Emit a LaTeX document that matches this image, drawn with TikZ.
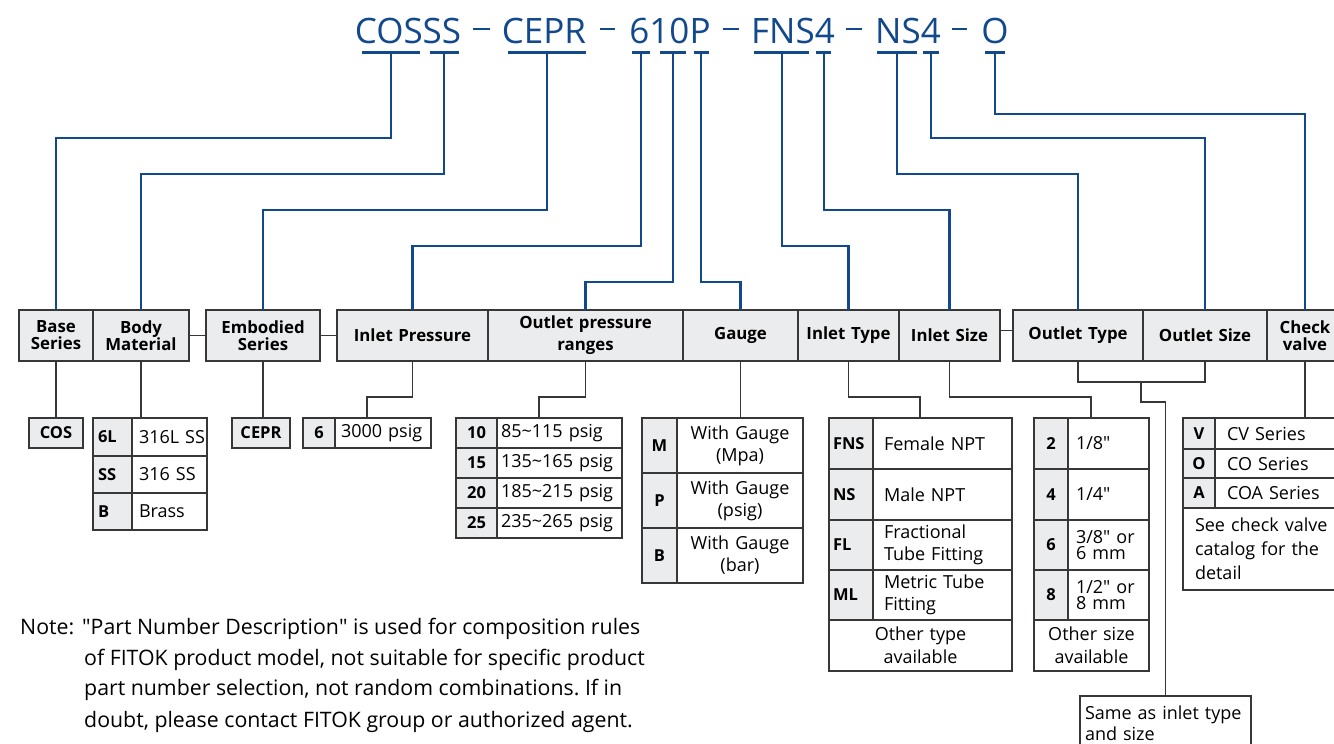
\documentclass[tikz,border=0pt]{standalone}
\usepackage{fontspec}
\setmainfont{Open Sans}
\frenchspacing
\definecolor{fblue}{RGB}{18,72,140}
\definecolor{hfill}{RGB}{235,236,238}
\definecolor{lcol}{RGB}{55,55,55}
\newcommand\cellbox[8]{%
  \pgfmathsetmacro\cw{#5-#3}\pgfmathsetmacro\ch{#6-#4}\pgfmathsetmacro\tw{#5-#3-2*#7}%
  \node[cellsty,#1,minimum width=\cw pt,minimum height=\ch pt,text width=\tw pt,inner xsep=#7pt] (#2) at ({(#3+#5)/2},{(#4+#6)/2}) {#8};}
\newcommand\qq{\textquotedbl}
\begin{document}
\begin{tikzpicture}[x=1pt,y=-1pt,
  ttl/.style={font=\fontsize{35}{40}\selectfont, text=fblue, anchor=base, inner sep=0},
  dsh/.style={draw=fblue, line width=2pt},
  ubar/.style={draw=fblue, line width=3pt},
  bl/.style={draw=fblue, line width=2.2pt},
  conn/.style={draw=lcol, line width=1.4pt},
  cellsty/.style={draw=lcol, line width=1.3pt, inner ysep=0pt, outer sep=0pt},
  hdr/.style={fill=hfill, font=\bfseries\fontsize{16.8}{17}\selectfont, align=center},
  codeL/.style={fill=hfill, font=\bfseries\fontsize{16.5}{20}\selectfont, align=left},
  codeC/.style={fill=hfill, font=\bfseries\fontsize{16.5}{20}\selectfont, align=center},
  descL/.style={fill=white, font=\fontsize{18}{22}\selectfont, align=left},
  descC/.style={fill=white, font=\fontsize{18}{22}\selectfont, align=center},
  note/.style={font=\fontsize{21.3}{22}\selectfont, anchor=base west, inner sep=0}
]
\useasboundingbox (0,0) rectangle (1334,744);

% ---------- title ----------
\node[ttl] (tA) at (408,43) {COSSS};
\node[ttl] (tB) at (544,43) {CEPR};
\node[ttl] (tC) at (670,43) {610P};
\node[ttl] (tD) at (793,43) {FNS4};
\node[ttl] (tE) at (908,43) {NS4};
\node[ttl] (tF) at (995,43) {O};
\coordinate (d1a) at (473,29); \coordinate (d1b) at (490,29);
\coordinate (d2a) at (600,29); \coordinate (d2b) at (615,29);
\coordinate (d3a) at (723,29); \coordinate (d3b) at (739,29);
\coordinate (d4a) at (846,29); \coordinate (d4b) at (862,29);
\coordinate (d5a) at (952,29); \coordinate (d5b) at (967,29);
\draw[dsh] (d1a) -- (d1b); \draw[dsh] (d2a) -- (d2b); \draw[dsh] (d3a) -- (d3b);
\draw[dsh] (d4a) -- (d4b); \draw[dsh] (d5a) -- (d5b);

% underline bars
\draw[ubar] (362,52) -- (420,52);
\draw[ubar] (430,52) -- (459,52);
\draw[ubar] (508,52) -- (586,52);
\draw[ubar] (632,52) -- (650,52);
\draw[ubar] (660,52) -- (686,52);
\draw[ubar] (694,52) -- (709,52);
\draw[ubar] (754,52) -- (809,52);
\draw[ubar] (816,52) -- (831,52);
\draw[ubar] (877,52) -- (917,52);
\draw[ubar] (923,52) -- (939,52);
\draw[ubar] (985,52) -- (1005,52);
\coordinate (u1) at (391,52);
\coordinate (u2) at (444,52);
\coordinate (u3) at (547,52);
\coordinate (u4) at (641,52);
\coordinate (u5) at (673,52);
\coordinate (u6) at (701,52);
\coordinate (u7) at (782,52);
\coordinate (u8) at (824,52);
\coordinate (u9) at (897,52);
\coordinate (u10) at (931,52);
\coordinate (u11) at (995,52);

% ---------- header boxes ----------
\cellbox{hdr}{base}{19}{310}{93}{361}{2}{Base\\Series}
\cellbox{hdr}{body}{93}{310}{189}{361}{2}{Body\\Material}
\cellbox{hdr}{emb}{206}{310}{320}{361}{2}{Embodied\\Series}
\cellbox{hdr}{inp}{337}{310}{488}{361}{2}{Inlet Pressure}
\cellbox{hdr,font=\bfseries\fontsize{16.8}{22}\selectfont}{outp}{488}{310}{683}{361}{2}{Outlet pressure\\ranges}
\cellbox{hdr}{gauge}{683}{310}{798}{361}{2}{Gauge}
\cellbox{hdr}{intype}{798}{310}{899}{361}{2}{Inlet Type}
\cellbox{hdr}{insize}{899}{310}{1000}{361}{2}{Inlet Size}
\cellbox{hdr}{outtype}{1013}{310}{1143}{361}{2}{Outlet Type}
\cellbox{hdr}{outsize}{1143}{310}{1267}{361}{2}{Outlet Size}
\cellbox{hdr}{check}{1267}{310}{1343}{361}{2}{Check\\valve}
\draw[conn] (body.east) -- (emb.west);
\draw[conn] (emb.east) -- (inp.west);
\draw[conn] ([yshift=5pt]insize.east) -- ([yshift=5pt]outtype.west);

% ---------- blue connectors ----------
\draw[bl] (u1) -- ++(0,86) -| (base.north);
\draw[bl] (u2) -- ++(0,122) -| (body.north);
\draw[bl] (u3) -- ++(0,158) -| (emb.north);
\draw[bl] (u4) -- ++(0,194) -| (inp.north);
\draw[bl] (u5) -- ++(0,230) -| (outp.north);
\draw[bl] (u6) -- ++(0,230) -| (gauge.north);
\draw[bl] (u7) -- ++(0,194) -| (intype.north);
\draw[bl] (u8) -- ++(0,158) -| (insize.north);
\draw[bl] (u9) -- ++(0,122) -| (outtype.north);
\draw[bl] (u10) -- ++(0,86) -| (outsize.north);
\draw[bl] (u11) -- ++(0,62) -| (check.north);

% ---------- option tables ----------
\cellbox{codeC}{cos}{29}{418}{83}{448}{2}{COS}

\cellbox{codeL}{bm1}{93}{418}{132}{456}{5}{6L}
\cellbox{descL}{bm1d}{132}{418}{207}{456}{7}{\mbox{316L SS}}
\cellbox{codeL}{bm2}{93}{456}{132}{493}{5}{SS}
\cellbox{descL}{bm2d}{132}{456}{207}{493}{7}{316 SS}
\cellbox{codeL}{bm3}{93}{493}{132}{530}{5}{B}
\cellbox{descL}{bm3d}{132}{493}{207}{530}{7}{Brass}

\cellbox{codeC}{cepr}{232}{418}{290}{448}{2}{CEPR}

\cellbox{codeC}{ip1}{303}{418}{335}{448}{2}{6}
\cellbox{descL}{ip1d}{335}{418}{431}{448}{6}{\mbox{3000 psig}}

\cellbox{codeC}{op1}{456}{418}{497}{448}{2}{10}
\cellbox{descL}{op1d}{497}{418}{622}{448}{4}{\mbox{85\textasciitilde115 psig}}
\cellbox{codeC}{op2}{456}{448}{497}{478}{2}{15}
\cellbox{descL}{op2d}{497}{448}{622}{478}{4}{\mbox{135\textasciitilde165 psig}}
\cellbox{codeC}{op3}{456}{478}{497}{508}{2}{20}
\cellbox{descL}{op3d}{497}{478}{622}{508}{4}{\mbox{185\textasciitilde215 psig}}
\cellbox{codeC}{op4}{456}{508}{497}{538}{2}{25}
\cellbox{descL}{op4d}{497}{508}{622}{538}{4}{\mbox{235\textasciitilde265 psig}}

\cellbox{codeC}{g1}{642}{418}{677}{473}{2}{M}
\cellbox{descC}{g1d}{677}{418}{803}{473}{2}{With Gauge\\(Mpa)}
\cellbox{codeC}{g2}{642}{473}{677}{528}{2}{P}
\cellbox{descC}{g2d}{677}{473}{803}{528}{2}{With Gauge\\(psig)}
\cellbox{codeC}{g3}{642}{528}{677}{583}{2}{B}
\cellbox{descC}{g3d}{677}{528}{803}{583}{2}{With Gauge\\(bar)}

\cellbox{codeL}{it1}{829}{418}{873}{469}{4}{FNS}
\cellbox{descL}{it1d}{873}{418}{1012}{469}{11}{Female NPT}
\cellbox{codeL}{it2}{829}{469}{873}{520}{4}{NS}
\cellbox{descL}{it2d}{873}{469}{1012}{520}{11}{Male NPT}
\cellbox{codeL}{it3}{829}{520}{873}{570}{4}{FL}
\cellbox{descL}{it3d}{873}{520}{1012}{570}{11}{Fractional\\\mbox{Tube Fitting}}
\cellbox{codeL}{it4}{829}{570}{873}{620}{4}{ML}
\cellbox{descL}{it4d}{873}{570}{1012}{620}{11}{Metric Tube\\Fitting}
\cellbox{descC,font=\fontsize{18}{23}\selectfont}{it5}{829}{620}{1012}{671}{2}{Other type\\available}

\cellbox{codeC}{is1}{1034}{418}{1068}{469}{2}{2}
\cellbox{descL}{is1d}{1068}{418}{1149}{469}{8}{1/8\qq}
\cellbox{codeC}{is2}{1034}{469}{1068}{520}{2}{4}
\cellbox{descL}{is2d}{1068}{469}{1149}{520}{8}{1/4\qq}
\cellbox{codeC}{is3}{1034}{520}{1068}{570}{2}{6}
\cellbox{descL,font=\fontsize{18}{16}\selectfont}{is3d}{1068}{520}{1149}{570}{8}{3/8\qq{} or\\6 mm}
\cellbox{codeC}{is4}{1034}{570}{1068}{620}{2}{8}
\cellbox{descL,font=\fontsize{18}{16}\selectfont}{is4d}{1068}{570}{1149}{620}{8}{1/2\qq{} or\\8 mm}
\cellbox{descC,font=\fontsize{18}{23}\selectfont}{is5}{1034}{620}{1149}{671}{2}{Other size\\available}

\cellbox{codeC}{cv1}{1183}{418}{1215}{449}{2}{V}
\cellbox{descL}{cv1d}{1215}{418}{1345}{449}{12}{CV Series}
\cellbox{codeC}{cv2}{1183}{449}{1215}{478}{2}{O}
\cellbox{descL}{cv2d}{1215}{449}{1345}{478}{12}{CO Series}
\cellbox{codeC}{cv3}{1183}{478}{1215}{508}{2}{A}
\cellbox{descL}{cv3d}{1215}{478}{1345}{508}{12}{COA Series}
\cellbox{descL,font=\fontsize{18}{24}\selectfont}{cv4}{1183}{508}{1345}{590}{12}{\mbox{See check valve}\\catalog for the\\detail}

\cellbox{descL,font=\fontsize{18}{21}\selectfont}{same}{1080}{696}{1251}{751}{5}{\mbox{Same as inlet type}\\and size}

% ---------- grey connectors ----------
\coordinate (ipT) at (367,418);
\coordinate (opT) at (539,418);
\coordinate (itT) at (920,418);
\coordinate (isT) at (1091,418);
\coordinate (oJ) at (1141,382);
\draw[conn] (base.south) -- (base.south |- cos.north);
\draw[conn] (body.south) -- (body.south |- bm1.north);
\draw[conn] (emb.south) -- (emb.south |- cepr.north);
\draw[conn] (inp.south) -- ++(0,36) -| (ipT);
\draw[conn] (outp.south) -- ++(0,36) -| (opT);
\draw[conn] (gauge.south) -- (gauge.south |- g1.north);
\draw[conn] (intype.south) -- ++(0,36) -| (itT);
\draw[conn] (insize.south) -- ++(0,36) -| (isT);
\draw[conn] (outtype.south) -- ++(0,21) -| (outsize.south);
\draw[conn] (oJ) -- ++(0,20) -| (same.north);
\draw[conn] (check.south) -- (check.south |- cv1.north);

% ---------- note ----------
\node[note] (n0) at (20,634) {Note:};
\node[note] (n1) at (82,634) {\qq Part Number Description\qq{} is used for composition rules};
\node[note] (n2) at (84,665) {of FITOK product model, not suitable for specific product};
\node[note] (n3) at (84,695) {part number selection, not random combinations. If in};
\node[note] (n4) at (84,727) {doubt, please contact FITOK group or authorized agent.};
\end{tikzpicture}
\end{document}
